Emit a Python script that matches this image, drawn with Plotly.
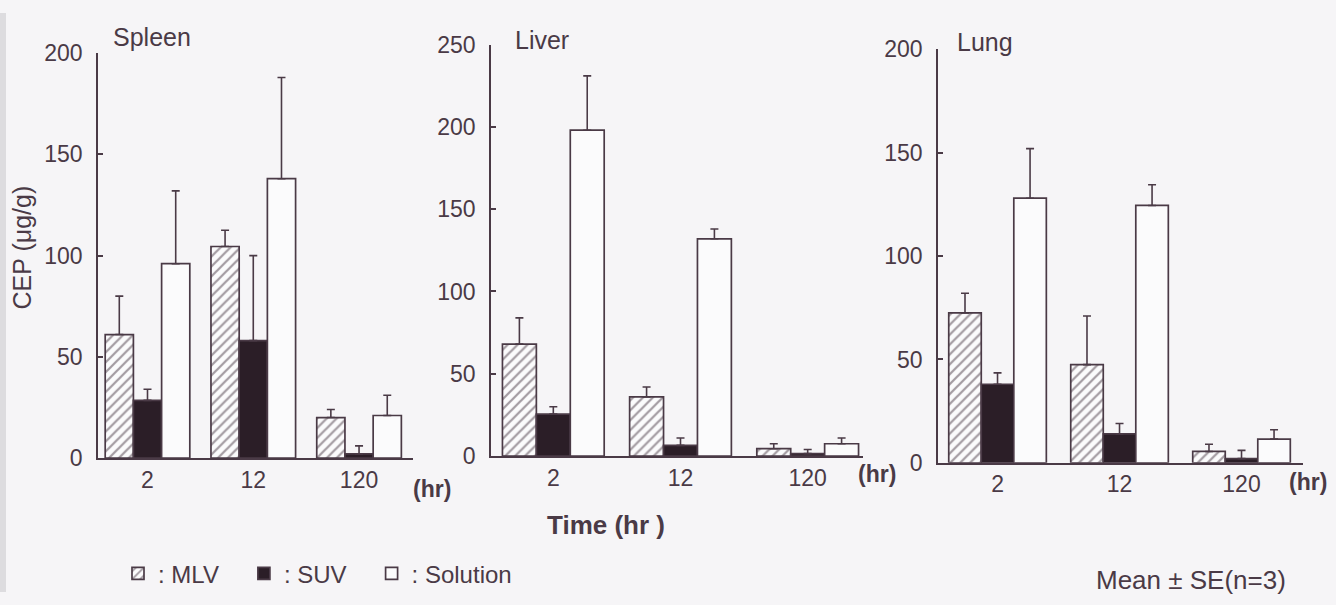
import plotly.graph_objects as go

# Sampling times (hr) and tissue panels
TIMES = ["2", "12", "120"]
ORGANS = ["Spleen", "Liver", "Lung"]

# CEP concentration (ug/g), mean and upper SE, per formulation
spleen_mlv = [61, 104.5, 20]
spleen_mlv_se = [19, 8, 4]
spleen_suv = [28.5, 58, 2]
spleen_suv_se = [5.5, 42, 4]
spleen_sol = [96, 138, 21]
spleen_sol_se = [36, 50, 10]

liver_mlv = [68, 36, 4.5]
liver_mlv_se = [16, 6, 3]
liver_suv = [25.5, 6.5, 1.5]
liver_suv_se = [4.5, 4.5, 2.5]
liver_sol = [198, 132, 7.5]
liver_sol_se = [33, 6, 3.5]

lung_mlv = [72.5, 47.5, 5.5]
lung_mlv_se = [9.5, 23.5, 3.5]
lung_suv = [38, 14, 2]
lung_suv_se = [5.5, 5, 4]
lung_sol = [128, 124.5, 11.5]
lung_sol_se = [24, 10, 4.5]

Y_MAX = [200, 250, 200]
Y_TICKS = [[0, 50, 100, 150, 200], [0, 50, 100, 150, 200, 250], [0, 50, 100, 150, 200]]

INK = "#4a3a46"
DARK = "#2b1e27"
BG = "#f6f5f7"
WHITE = "#fbfbfc"
FONT = "Liberation Sans"

W, H = 1336, 605

# panel boxes in pixels: (left, right, top, bottom) and category range
PANELS = [
    dict(px=(98, 413), py=(42, 465), xr=(-0.468, 2.51)),
    dict(px=(491, 863), py=(33, 463), xr=(-0.49, 2.435)),
    dict(px=(938, 1303), py=(38, 470), xr=(-0.488, 2.504)),
]

series = [
    (spleen_mlv, spleen_mlv_se, spleen_suv, spleen_suv_se, spleen_sol, spleen_sol_se),
    (liver_mlv, liver_mlv_se, liver_suv, liver_suv_se, liver_sol, liver_sol_se),
    (lung_mlv, lung_mlv_se, lung_suv, lung_suv_se, lung_sol, lung_sol_se),
]

fig = go.Figure()


def err(vals):
    return dict(type="data", symmetric=False, array=vals, arrayminus=[0] * len(vals),
                color=INK, thickness=1.6, width=4)


PAD = "\u00a0" * 3  # spacing between legend entries

for i, (mlv, mlv_se, suv, suv_se, sol, sol_se) in enumerate(series):
    xa = "x" if i == 0 else f"x{i + 1}"
    ya = "y" if i == 0 else f"y{i + 1}"
    show = i == 0
    line = dict(color=INK, width=1.7)
    fig.add_trace(go.Bar(
        x=TIMES, y=mlv, name=": MLV" + PAD, legendgroup="mlv", showlegend=show,
        xaxis=xa, yaxis=ya, error_y=err(mlv_se),
        marker=dict(color=WHITE, line=line,
                    pattern=dict(shape="/", fgcolor=INK, bgcolor=WHITE, size=7, solidity=0.32)),
    ))
    fig.add_trace(go.Bar(
        x=TIMES, y=suv, name=": SUV" + PAD, legendgroup="suv", showlegend=show,
        xaxis=xa, yaxis=ya, error_y=err(suv_se),
        marker=dict(color=DARK, line=line),
    ))
    fig.add_trace(go.Bar(
        x=TIMES, y=sol, name=": Solution", legendgroup="sol", showlegend=show,
        xaxis=xa, yaxis=ya, error_y=err(sol_se),
        marker=dict(color=WHITE, line=line),
    ))

layout = dict(
    width=W, height=H,
    margin=dict(l=0, r=0, t=0, b=0),
    paper_bgcolor=BG, plot_bgcolor=BG,
    barmode="group", bargap=0.2, bargroupgap=0,
    font=dict(family=FONT, color=INK, size=22),
    showlegend=True,
    legend=dict(orientation="h", x=118 / W, y=1 - 586 / H, xanchor="left", yanchor="middle",
                bgcolor="rgba(0,0,0,0)", font=dict(size=24, color=INK),
                itemwidth=30, traceorder="normal"),
)

for i, p in enumerate(PANELS):
    sfx = "" if i == 0 else str(i + 1)
    x0, x1 = p["px"]
    top, bot = p["py"]
    layout[f"xaxis{sfx}"] = dict(
        domain=[x0 / W, x1 / W], range=list(p["xr"]), type="category",
        showline=True, linecolor=INK, linewidth=1.8, ticks="", showgrid=False,
        zeroline=False, tickfont=dict(size=23, color=INK), anchor=f"y{sfx}",
        fixedrange=True,
    )
    layout[f"yaxis{sfx}"] = dict(
        domain=[1 - bot / H, 1 - top / H], range=[0, Y_MAX[i]], tickvals=Y_TICKS[i],
        showline=True, linecolor=INK, linewidth=1.8, ticks="inside", ticklen=5,
        tickcolor=INK, tickwidth=1.6, showgrid=False, zeroline=False,
        tickfont=dict(size=23, color=INK), ticklabelstandoff=9, anchor=f"x{sfx}",
        fixedrange=True,
    )

fig.update_layout(**layout)


def note(text, px, py, size=22, bold=False, angle=0):
    fig.add_annotation(
        text=f"<b>{text}</b>" if bold else text, x=px / W, y=1 - py / H,
        xref="paper", yref="paper", showarrow=False, textangle=angle,
        xanchor="center", yanchor="middle", font=dict(size=size, color=INK, family=FONT),
    )


# panel titles
note(ORGANS[0], 152, 25, size=25)
note(ORGANS[1], 542, 28, size=25)
note(ORGANS[2], 985, 30, size=25)

# axis captions
note("CEP (\u03bcg/g)", 22, 245, size=25, angle=-90)
note("(hr)", 432, 497, size=23, bold=True)
note("(hr)", 877, 482, size=23, bold=True)
note("(hr)", 1308, 490, size=23, bold=True)
note("Time (hr )", 606, 535, size=26, bold=True)
note("Mean \u00b1 SE(n=3)", 1191, 592, size=26)

# light scanner edge along the left border
fig.add_shape(type="rect", xref="paper", yref="paper", x0=0, x1=6 / W, y0=0, y1=1,
              fillcolor="#dddcdf", line=dict(width=0), layer="below")

fig.write_html("out.html")
